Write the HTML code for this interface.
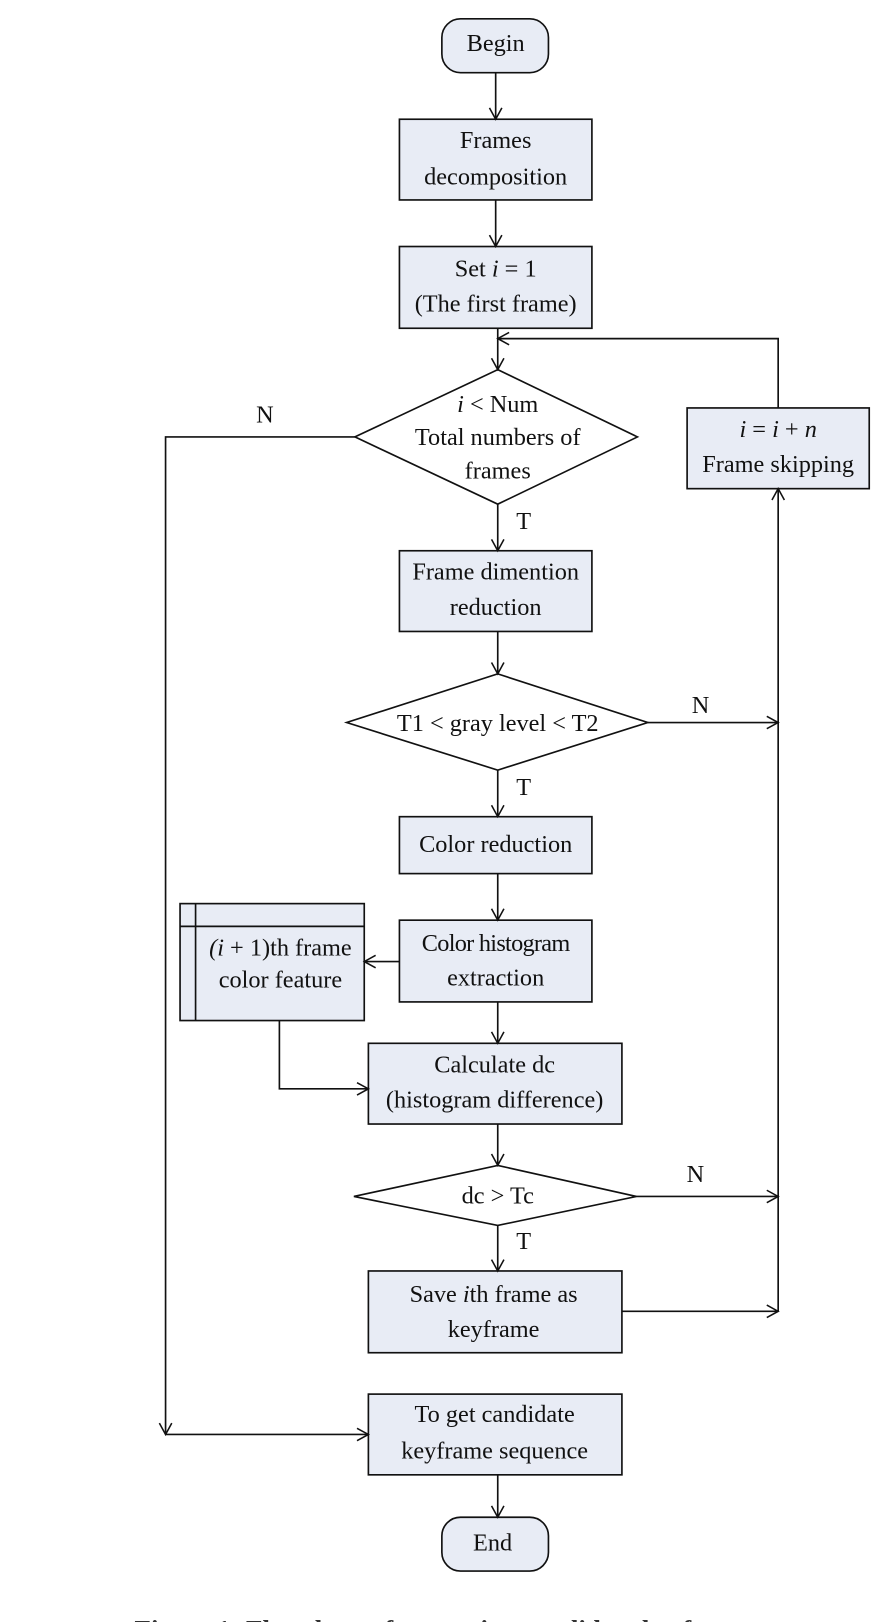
<!DOCTYPE html>
<html><head><meta charset="utf-8"><style>
html,body{margin:0;padding:0;background:#fff;width:892px;height:1622px;overflow:hidden}
text{font-family:"Liberation Serif",serif;font-size:23.5px;fill:#111;text-anchor:middle}
.b{fill:#e8ecf5;stroke:#111;stroke-width:1.6}
.d{fill:#fff;stroke:#111;stroke-width:1.6}
.l{fill:none;stroke:#111;stroke-width:1.6}
</style></head><body>
<svg width="892" height="1622" viewBox="0 0 862 1567" xmlns="http://www.w3.org/2000/svg">
<defs><marker id="a" markerWidth="14" markerHeight="14" refX="12" refY="7" orient="auto" markerUnits="userSpaceOnUse"><path d="M1,1 L12,7 L1,13" fill="none" stroke="#111" stroke-width="1.5"/></marker></defs>
<rect class="b" x="427" y="18" width="103" height="52" rx="18"/><text x="479" y="49">Begin</text>
<rect class="b" x="386" y="115" width="186" height="78"/><text x="479" y="143">Frames</text><text x="479" y="178">decomposition</text>
<rect class="b" x="386" y="238" width="186" height="79"/><text x="479" y="267">Set <tspan font-style="italic">i</tspan> = 1</text><text x="479" y="301">(The first frame)</text>
<polygon class="d" points="481,357 616,422 481,487 343,422"/><text x="481" y="398"><tspan font-style="italic">i</tspan> &lt; Num</text><text x="481" y="430">Total numbers of</text><text x="481" y="462">frames</text>
<rect class="b" x="664" y="394" width="176" height="78"/><text x="752" y="422"><tspan font-style="italic">i</tspan> = <tspan font-style="italic">i</tspan> + <tspan font-style="italic">n</tspan></text><text x="752" y="456">Frame skipping</text>
<rect class="b" x="386" y="532" width="186" height="78"/><text x="479" y="560">Frame dimention</text><text x="479" y="594">reduction</text>
<polygon class="d" points="481,651 626,698 481,744 335,698"/><text x="481" y="706">T1 &lt; gray  level &lt; T2</text>
<rect class="b" x="386" y="789" width="186" height="55"/><text x="479" y="823">Color reduction</text>
<rect class="b" x="386" y="889" width="186" height="79"/><text x="479" y="919" letter-spacing="-0.7">Color histogram</text><text x="479" y="952">extraction</text>
<rect class="b" x="174" y="873" width="178" height="113"/><line class="l" x1="189" y1="873" x2="189" y2="986"/><line class="l" x1="174" y1="895" x2="352" y2="895"/><text x="271" y="923"><tspan font-style="italic">(i</tspan> + 1)th frame</text><text x="271" y="954">color feature</text>
<rect class="b" x="356" y="1008" width="245" height="78"/><text x="478" y="1036">Calculate dc</text><text x="478" y="1070">(histogram difference)</text>
<polygon class="d" points="481,1126 615,1156 481,1184 342,1156"/><text x="481" y="1163">dc &gt; Tc</text>
<rect class="b" x="356" y="1228" width="245" height="79"/><text x="477" y="1258">Save <tspan font-style="italic">i</tspan>th frame as</text><text x="477" y="1292">keyframe</text>
<rect class="b" x="356" y="1347" width="245" height="78"/><text x="478" y="1374">To get candidate</text><text x="478" y="1409">keyframe sequence</text>
<rect class="b" x="427" y="1466" width="103" height="52" rx="18"/><text x="476" y="1498">End</text>
<line class="l" x1="479" y1="70" x2="479" y2="115" marker-end="url(#a)"/>
<line class="l" x1="479" y1="193" x2="479" y2="238" marker-end="url(#a)"/>
<line class="l" x1="481" y1="317" x2="481" y2="357" marker-end="url(#a)"/>
<polyline class="l" points="752,394 752,327 481,327" marker-end="url(#a)"/>
<line class="l" x1="481" y1="487" x2="481" y2="532" marker-end="url(#a)"/>
<line class="l" x1="481" y1="610" x2="481" y2="651" marker-end="url(#a)"/>
<line class="l" x1="481" y1="744" x2="481" y2="789" marker-end="url(#a)"/>
<line class="l" x1="481" y1="844" x2="481" y2="889" marker-end="url(#a)"/>
<line class="l" x1="386" y1="929" x2="352" y2="929" marker-end="url(#a)"/>
<line class="l" x1="481" y1="968" x2="481" y2="1008" marker-end="url(#a)"/>
<polyline class="l" points="270,986 270,1052 356,1052" marker-end="url(#a)"/>
<line class="l" x1="481" y1="1086" x2="481" y2="1126" marker-end="url(#a)"/>
<line class="l" x1="481" y1="1184" x2="481" y2="1228" marker-end="url(#a)"/>
<line class="l" x1="481" y1="1425" x2="481" y2="1466" marker-end="url(#a)"/>
<line class="l" x1="752" y1="1267" x2="752" y2="472" marker-end="url(#a)"/>
<line class="l" x1="626" y1="698" x2="752" y2="698" marker-end="url(#a)"/>
<line class="l" x1="615" y1="1156" x2="752" y2="1156" marker-end="url(#a)"/>
<line class="l" x1="601" y1="1267" x2="752" y2="1267" marker-end="url(#a)"/>
<polyline class="l" points="343,422 160,422 160,1386" marker-end="url(#a)"/>
<line class="l" x1="160" y1="1386" x2="356" y2="1386" marker-end="url(#a)"/>
<text x="256" y="408">N</text><text x="506" y="511">T</text>
<text x="677" y="689">N</text><text x="506" y="768">T</text>
<text x="672" y="1142">N</text><text x="506" y="1207">T</text>
<text x="130" y="1583" style="text-anchor:start;font-size:26px;font-weight:bold;fill:#333">Figure 1: Flowchart of extracting candidate keyframes.</text>
</svg>
</body></html>
